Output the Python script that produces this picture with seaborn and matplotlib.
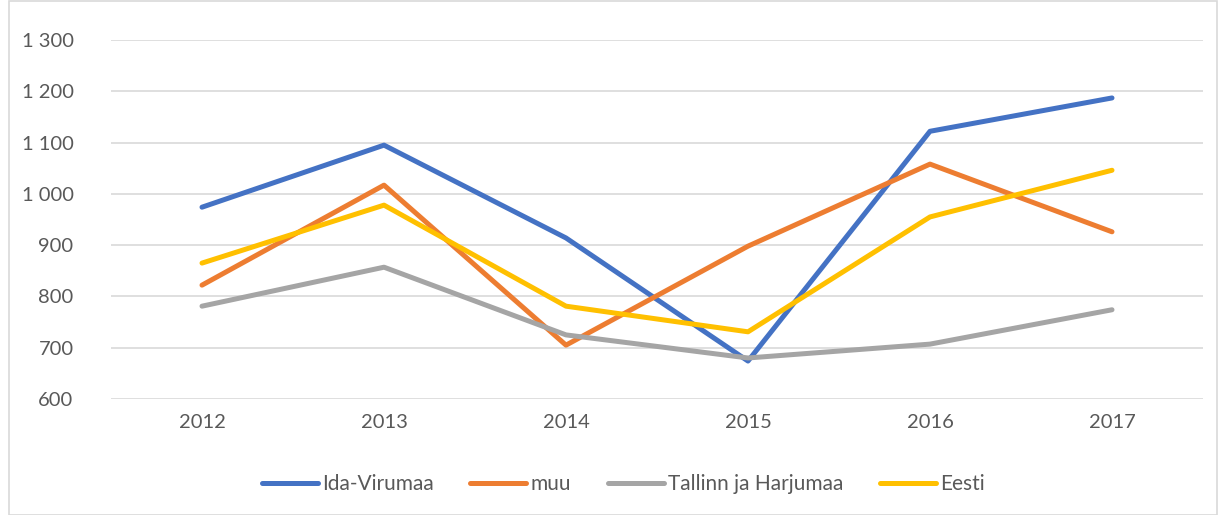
import matplotlib
matplotlib.use("Agg")
import matplotlib.pyplot as plt
import matplotlib.ticker as mticker
from matplotlib.patches import Rectangle
import seaborn as sns
import pandas as pd

years = ["2012", "2013", "2014", "2015", "2016", "2017"]
ida_virumaa = [974, 1095, 914, 674, 1122, 1187]
muu = [822, 1017, 705, 898, 1058, 926]
tallinn_harjumaa = [781, 857, 725, 680, 707, 774]
eesti = [865, 978, 781, 731, 955, 1046]

series_names = ["Ida-Virumaa", "muu", "Tallinn ja Harjumaa", "Eesti"]
series_values = [ida_virumaa, muu, tallinn_harjumaa, eesti]
colors = ["#4472C4", "#ED7D31", "#A5A5A5", "#FFC000"]

rows = []
for name, vals in zip(series_names, series_values):
    for i, (y, v) in enumerate(zip(years, vals)):
        rows.append({"pos": i, "year": y, "value": v, "series": name})
df = pd.DataFrame(rows)

sns.set_theme(style="white")
plt.rcParams["font.family"] = ["Lato", "DejaVu Sans"]

fig = plt.figure(figsize=(12.18, 5.15), dpi=100)
ax = fig.add_axes([111 / 1218, 1 - 399 / 515, (1203 - 111) / 1218, (399 - 40) / 515])

sns.lineplot(data=df, x="pos", y="value", hue="series", hue_order=series_names,
             palette=colors, linewidth=3.6, ax=ax, legend=True)

ax.set_xlim(-0.5, 5.5)
ax.set_ylim(600, 1300)
ax.set_xticks(range(len(years)))
ax.set_xticklabels(years)
ax.yaxis.set_major_locator(mticker.MultipleLocator(100))
ax.yaxis.set_major_formatter(mticker.FuncFormatter(lambda v, p: f"{int(v):,}".replace(",", " ")))
ax.grid(axis="y", color="#D9D9D9", linewidth=1.2)
ax.set_axisbelow(True)
for s in ax.spines.values():
    s.set_visible(False)
ax.tick_params(axis="both", length=0, labelsize=14.5, labelcolor="#595959")
ax.tick_params(axis="y", pad=27)
ax.tick_params(axis="x", pad=11)
ax.set_xlabel("")
ax.set_ylabel("")

handles, labels = ax.get_legend_handles_labels()
leg = ax.legend(handles, labels, loc="center", bbox_to_anchor=(0.469, -0.237), ncol=4,
                frameon=False, fontsize=15, labelcolor="#595959", handlelength=2.7,
                handletextpad=0.2, columnspacing=1.75)
for h in leg.get_lines():
    h.set_solid_capstyle("round")

fig.patches.append(Rectangle((9 / 1218, 0), 1 - 9 / 1218 - 0.001, 0.999, transform=fig.transFigure,
                             fill=False, edgecolor="#D9D9D9", linewidth=1.2))

fig.savefig("out.png", dpi=100)
